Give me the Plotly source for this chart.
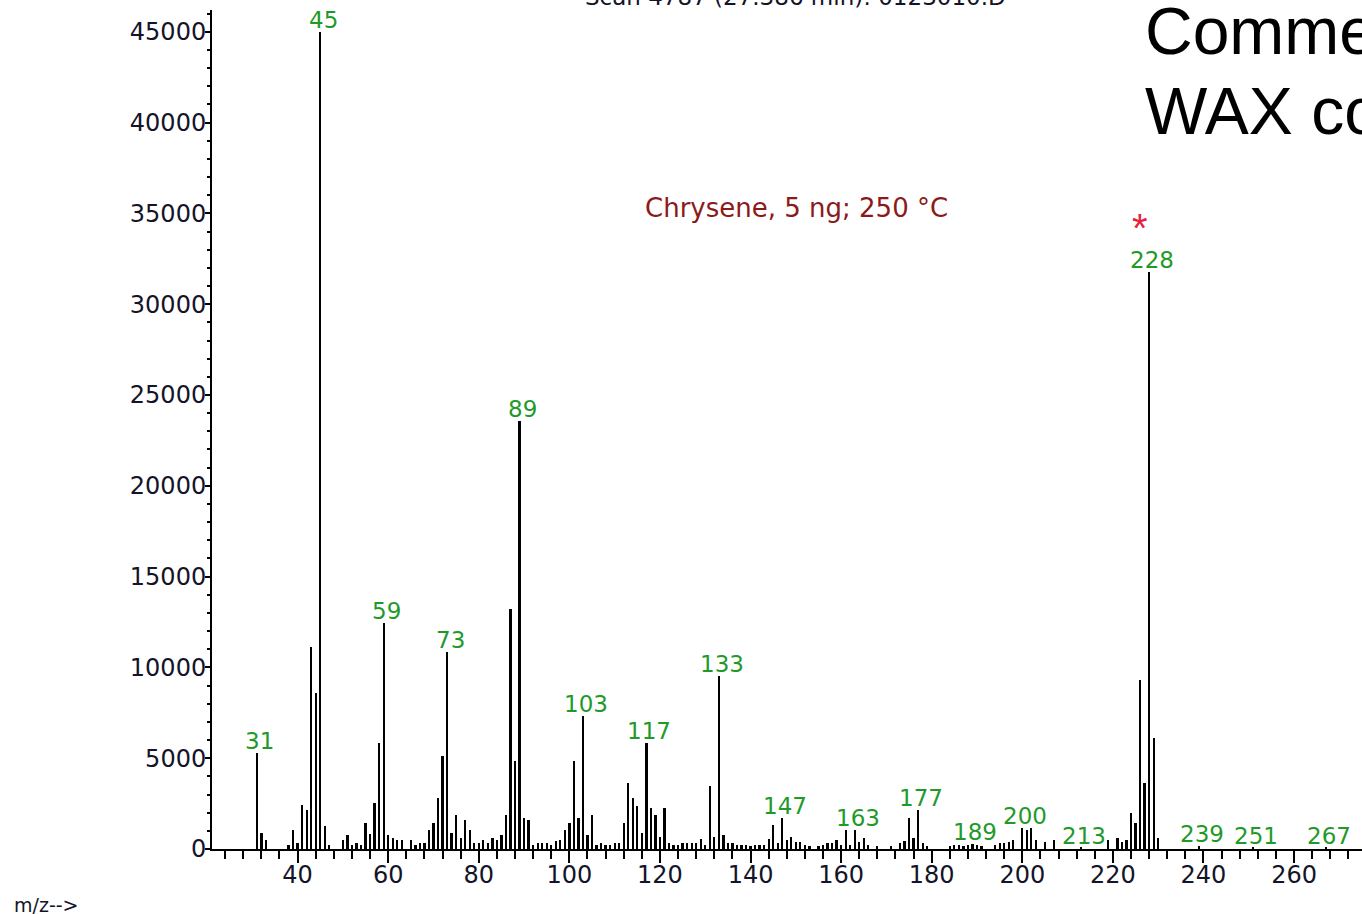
import plotly.graph_objects as go

# m/z values and abundances
mz = [31, 32, 33, 38, 39, 40, 41, 42, 43, 44, 45, 46, 47,
      50, 51, 52, 53, 54, 55, 56, 57, 58, 59, 60, 61, 62, 63, 65, 66, 67, 68, 69,
      70, 71, 72, 73, 74, 75, 76, 77, 78, 79, 80, 81, 82, 83, 84, 85, 86, 87, 88, 89,
      90, 91, 92, 93, 94, 95, 96, 97, 98, 99, 100, 101, 102, 103, 104, 105, 106, 107,
      108, 109, 110, 111, 112, 113, 114, 115, 116, 117, 118, 119, 120, 121, 122, 123,
      124, 125, 126, 127, 128, 129, 130, 131, 132, 133, 134, 135, 136, 137, 138, 139,
      140, 141, 142, 143, 144, 145, 146, 147, 148, 149, 150, 151, 152, 153, 155, 156,
      157, 158, 159, 160, 161, 162, 163, 164, 165, 166, 168, 171, 173, 174, 175, 176,
      177, 178, 179, 184, 185, 186, 187, 188, 189, 190, 191, 194, 195, 196, 197, 198,
      200, 201, 202, 203, 205, 207, 213, 219, 221, 222, 223, 224, 225, 226, 227, 228,
      229, 230, 239, 251, 267]
abundance = [5300, 880, 500, 220, 1050, 350, 2400, 2150, 11150, 8600, 45000, 1280, 200,
             500, 770, 200, 350, 200, 1450, 800, 2550, 5820, 12470, 770, 600, 500, 500, 500, 200, 350, 350, 1050,
             1450, 2800, 5120, 10870, 900, 1850, 630, 1620, 1030, 350, 350, 520, 350, 630, 520, 770, 1850, 13200, 4860, 23550,
             1720, 1600, 220, 350, 350, 350, 220, 420, 500, 1050, 1450, 4860, 1720, 7320, 780, 1850, 220, 350,
             220, 220, 350, 350, 1450, 3650, 2800, 2380, 900, 5830, 2240, 1870, 640, 2240, 350, 220,
             220, 350, 350, 350, 350, 530, 220, 3480, 640, 9500, 770, 350, 350, 220, 220, 200,
             150, 220, 220, 220, 530, 1320, 350, 1730, 500, 640, 370, 370, 200, 180, 180, 220,
             310, 350, 500, 220, 1030, 220, 1050, 400, 620, 220, 150, 170, 310, 440, 1730, 620,
             2150, 310, 170, 170, 200, 220, 170, 220, 300, 220, 150, 220, 310, 350, 400, 500,
             1140, 1030, 1150, 500, 370, 500, 80, 500, 620, 370, 500, 2000, 1450, 9330, 3620, 31780,
             6100, 620, 150, 80, 80]

labelled_peaks = [31, 45, 59, 73, 89, 103, 117, 133, 147, 163, 177, 189, 200, 213, 228, 239, 251, 267]
marked_peak = 228

x_tick_vals = [40, 60, 80, 100, 120, 140, 160, 180, 200, 220, 240, 260]
y_tick_vals = [0, 5000, 10000, 15000, 20000, 25000, 30000, 35000, 40000, 45000]

title_text = "Scan 4787 (27.386 min): 0123010.D"
sample_text = "Chrysene, 5 ng; 250 °C"
side_lines = ["Commercial", "WAX column"]
x_label = "m/z-->"

lookup = dict(zip(mz, abundance))

# plot-area geometry (pixels)
L, T, W, H = 212, 10, 1150, 839

def px(xp):
    return (xp - L) / W

def py(yp):
    return (T + H - yp) / H

fig = go.Figure()
fig.add_trace(go.Bar(x=mz, y=abundance, width=0.5,
                     marker=dict(color="black", line=dict(width=0)),
                     showlegend=False, hoverinfo="x+y"))

FONT = "DejaVu Sans"
annotations = []
for p in labelled_peaks:
    annotations.append(dict(x=p, y=lookup[p], xref="x", yref="y", text=str(p),
                            showarrow=False, yanchor="middle", xanchor="center",
                            xshift=3, yshift=12,
                            font=dict(family=FONT, size=23, color="#1f9a2a")))
# red asterisk above the molecular ion
annotations.append(dict(x=marked_peak, y=lookup[marked_peak], xref="x", yref="y", text="*",
                        showarrow=False, yanchor="middle", xanchor="center",
                        xshift=-9, yshift=44,
                        font=dict(family="Liberation Sans", size=40, color="#e8203a")))
# sample note
annotations.append(dict(x=px(797), y=py(208), xref="paper", yref="paper",
                        text=sample_text, showarrow=False, xanchor="center", yanchor="middle",
                        font=dict(family=FONT, size=26, color="#8b1a1a")))
# title (cut at top)
annotations.append(dict(x=px(795), y=py(-3), xref="paper", yref="paper",
                        text=title_text, showarrow=False, xanchor="center", yanchor="middle",
                        font=dict(family=FONT, size=23, color="#141428")))
# side slide text
for i, line in enumerate(side_lines):
    annotations.append(dict(x=px(1143), y=py(31 + 80 * i),
                            xref="paper", yref="paper", text=line, showarrow=False,
                            xanchor="left", yanchor="middle",
                            font=dict(family="Liberation Sans", size=66, color="black")))
# x label
annotations.append(dict(x=px(12), y=py(905), xref="paper", yref="paper",
                        text=x_label, showarrow=False, xanchor="left", yanchor="middle",
                        font=dict(family=FONT, size=19, color="#141428")))

fig.update_layout(
    width=1362, height=914, autosize=False,
    margin=dict(l=L, r=1362 - L - W, t=T, b=914 - T - H),
    paper_bgcolor="white", plot_bgcolor="white",
    bargap=0, annotations=annotations,
    xaxis=dict(range=[21.1, 275], showgrid=False, zeroline=False,
               showline=True, linecolor="black", linewidth=2,
               ticks="outside", ticklen=12, tickwidth=2, tickcolor="black",
               ticklabelstandoff=-9,
               tickvals=x_tick_vals, ticktext=[str(v) for v in x_tick_vals],
               tickfont=dict(family=FONT, size=24, color="#141428"),
               minor=dict(dtick=4, tick0=0, ticks="outside", ticklen=8, tickwidth=2,
                          tickcolor="black", showgrid=False)),
    yaxis=dict(range=[0, 46200], showgrid=False, zeroline=False,
               showline=True, linecolor="black", linewidth=2,
               ticks="outside", ticklen=5, tickwidth=2, tickcolor="black",
               ticklabelstandoff=-6,
               tickvals=y_tick_vals, ticktext=[str(v) for v in y_tick_vals],
               tickfont=dict(family=FONT, size=24, color="#141428"),
               minor=dict(dtick=1000, tick0=0, ticks="outside", ticklen=3, tickwidth=2,
                          tickcolor="black", showgrid=False)),
)

fig.write_html("out.html", config={"displayModeBar": False},
               post_script="document.body.style.margin='0';document.body.style.overflow='hidden';")
